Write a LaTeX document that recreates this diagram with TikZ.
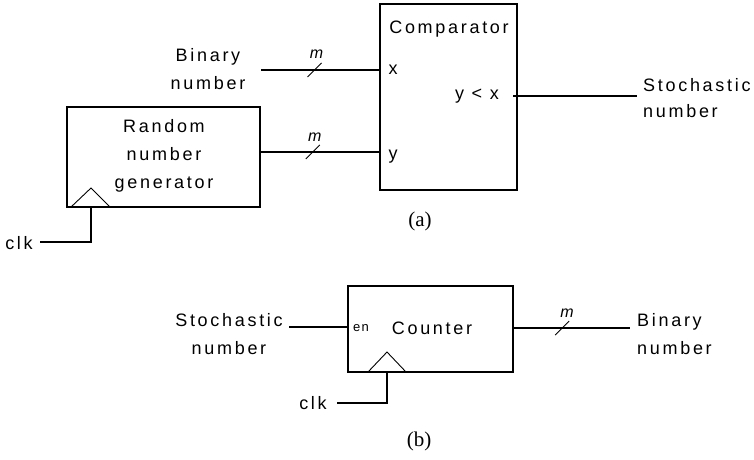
\documentclass[tikz,border=0pt]{standalone}
\usepackage{fontspec}
\setmainfont{Liberation Sans}
\newfontfamily\lsf[LetterSpace=15]{Liberation Sans}
\newfontfamily\lsfs[LetterSpace=10]{Liberation Sans}
\newfontfamily\capfont{Liberation Serif}
\usetikzlibrary{calc}
\begin{document}
\begin{tikzpicture}[x=1pt,y=-1pt,
  box/.style={draw, line width=1.8pt, inner sep=0pt, outer sep=0pt},
  wire/.style={line width=1.8pt},
  thinl/.style={line width=0.9pt},
  lbl/.style={font=\fontsize{18}{28}\selectfont\lsf, inner sep=0pt, align=center},
  small/.style={font=\fontsize{13}{14}\selectfont\lsfs, inner sep=0pt},
  mlbl/.style={font=\fontsize{16}{16}\selectfont\itshape, inner sep=0pt},
  captxt/.style={font=\fontsize{21}{21}\selectfont\capfont, inner sep=0pt}
]
\useasboundingbox (0,0) rectangle (754,459);

% ---------- (a) ----------
\node[box, minimum width=193pt, minimum height=100pt] (rng) at (163.5,157) {};
\node[lbl] (rngt) at (164,156) {Random\\number\\generator};
\node[box, minimum width=137pt, minimum height=186pt] (cmp) at (448.5,97) {};
\node[lbl] (cmpt) at (449,29) {Comparator};
\node[lbl] (xin) at (393,70) {x};
\node[lbl] (yin) at (393,157) {y};
\node[lbl] (ylx) at (477,96) {y < x};

\node[lbl] (bin) at (208,69) {Binary\\number};
\node[lbl, align=left, anchor=west, font=\fontsize{18}{26}\selectfont\lsf] (sto) at (643,98) {Stochastic\\number};
\node[lbl] (clka) at (19,243) {clk};

% binary input
\coordinate (binL) at (261,70);
\draw[wire] (binL) -- (binL -| cmp.west) coordinate[pos=0.45] (s1);
\draw[thinl] ($(s1)+(-7,7)$) -- ($(s1)+(7,-7)$);
\node[mlbl] (m1) at ($(s1)+(2,-16)$) {m};
% rng output
\draw[wire] (rng.east |- 0,152) coordinate (rngo) -- (rngo -| cmp.west) coordinate[pos=0.44] (s2);
\draw[thinl] ($(s2)+(-7,7)$) -- ($(s2)+(7,-7)$);
\node[mlbl] (m2) at ($(s2)+(2,-15)$) {m};
% comparator output
\coordinate (stoL) at (637,96);
\draw[wire] (513,96) -- (stoL);
% clock of rng
\draw[thinl] (71,207) -- (91,188) -- (110,207);
\coordinate (clkaR) at (40,242);
\draw[wire] (91,207) |- (clkaR);

\node[captxt] (capa) at (420,221) {(a)};

% ---------- (b) ----------
\node[box, minimum width=165pt, minimum height=86pt] (cnt) at (430.5,329) {};
\node[lbl] (cntt) at (432,328) {Counter};
\node[small] (en) at (361,328) {en};
\node[lbl] (stob) at (229,334) {Stochastic\\number};
\node[lbl, align=left, anchor=west] (binb) at (637,334) {Binary\\number};
\node[lbl] (clkb) at (313,403) {clk};

\coordinate (stobR) at (289,327);
\draw[line width=1.5pt] (stobR) -- (stobR -| cnt.west);
\coordinate (binbL) at (630,328);
\draw[wire] (binbL -| cnt.east) -- (binbL) coordinate[pos=0.42] (s3);
\draw[thinl] ($(s3)+(-7,7)$) -- ($(s3)+(7,-7)$);
\node[mlbl] (m3) at ($(s3)+(5,-15)$) {m};
\draw[thinl] (368,372) -- (387,352) -- (406,372);
\coordinate (clkbR) at (337,403);
\draw[wire] (387,372) |- (clkbR);

\node[captxt] (capb) at (419,441) {(b)};
\end{tikzpicture}
\end{document}
